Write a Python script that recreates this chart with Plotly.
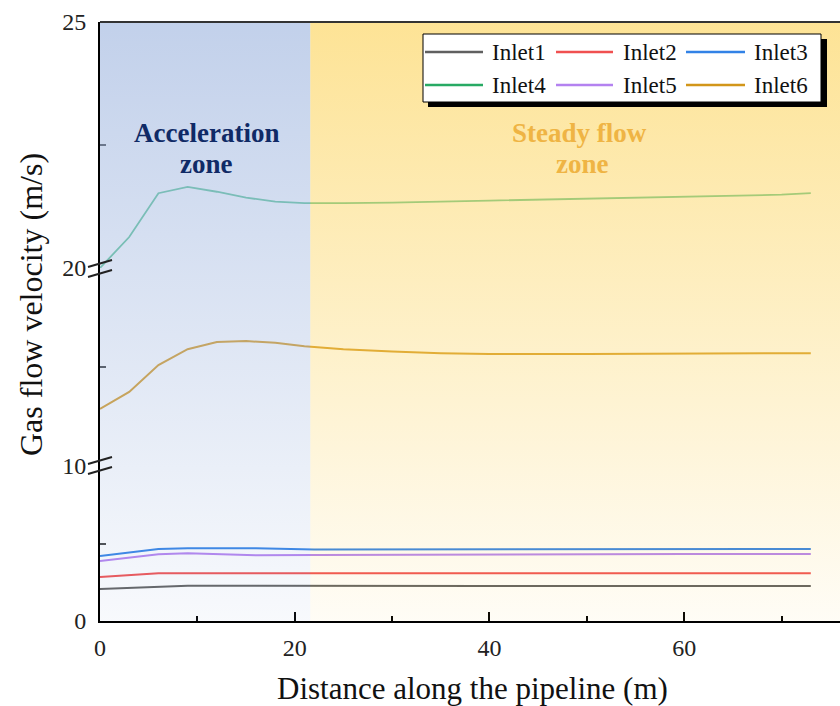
import plotly.graph_objects as go

# ---------------- data ----------------
x_inlet4 = [0, 3, 6, 9, 12, 15, 18, 21, 25, 30, 40, 50, 60, 70, 73]
inlet4 = [20.0, 20.63, 21.52, 21.65, 21.55, 21.43, 21.35, 21.32, 21.32, 21.33, 21.37, 21.41, 21.44, 21.49, 21.52]

x_inlet6 = [0, 3, 6, 9, 12, 15, 18, 21, 25, 30, 35, 40, 50, 60, 70, 73]
inlet6 = [12.88, 13.74, 15.1, 15.9, 16.26, 16.31, 16.22, 16.05, 15.9, 15.78, 15.7, 15.66, 15.66, 15.68, 15.69, 15.7]

x_low = [0, 6, 9, 16, 22, 40, 60, 73]
inlet1 = [2.06, 2.2, 2.28, 2.28, 2.27, 2.26, 2.26, 2.26]
inlet2 = [2.84, 3.08, 3.08, 3.08, 3.08, 3.08, 3.08, 3.08]
inlet3 = [4.19, 4.65, 4.7, 4.7, 4.62, 4.63, 4.64, 4.64]
inlet5 = [3.87, 4.3, 4.37, 4.24, 4.26, 4.3, 4.32, 4.32]

names = ["Inlet1", "Inlet2", "Inlet3", "Inlet4", "Inlet5", "Inlet6"]
colors = ["#606060", "#f05050", "#3282e6", "#28aa64", "#b482f0", "#d2961a"]
plot_colors = ["#606060", "#f05050", "#3282e6", "#66c89c", "#b482f0", "#d8a030"]
plot_widths = [2, 2, 2, 1.8, 2, 2]

zone_split = 21.6
x_max = 76
y_bottom = [0, 10]
y_middle = [10, 20]
y_top = [20, 25]

# ---------------- geometry helpers ----------------
W, H = 840, 706
ML, MR, MT, MB = 100, 0, 22, 85
PW, PH = W - ML - MR, H - MT - MB


def px2x(px):
    return (px - ML) / PW


def py2y(py):
    return (H - MB - py) / PH


d1 = py2y(466)
d2 = py2y(268)

fig = go.Figure()

series = {
    "Inlet1": (x_low, inlet1, "y2"),
    "Inlet2": (x_low, inlet2, "y2"),
    "Inlet3": (x_low, inlet3, "y2"),
    "Inlet4": (x_inlet4, inlet4, "y4"),
    "Inlet5": (x_low, inlet5, "y2"),
    "Inlet6": (x_inlet6, inlet6, "y3"),
}
for n, c, lw in zip(names, plot_colors, plot_widths):
    xs, ys, ya = series[n]
    fig.add_trace(go.Scatter(x=xs, y=ys, mode="lines", name=n, xaxis="x", yaxis=ya,
                             line=dict(color=c, width=lw), showlegend=False))

# gradient overlays (drawn on top, semi-transparent)
fig.add_trace(go.Scatter(
    x=[0, zone_split, zone_split, 0, 0], y=[0, 0, 1, 1, 0], xaxis="x", yaxis="y5",
    mode="lines", line=dict(width=0), fill="toself", showlegend=False, hoverinfo="skip",
    fillgradient=dict(type="vertical", start=0, stop=1,
                      colorscale=[[0, "rgba(150,175,220,0.07)"], [1, "rgba(150,175,220,0.58)"]])))
fig.add_trace(go.Scatter(
    x=[zone_split, x_max, x_max, zone_split, zone_split], y=[0, 0, 1, 1, 0], xaxis="x", yaxis="y5",
    mode="lines", line=dict(width=0), fill="toself", showlegend=False, hoverinfo="skip",
    fillgradient=dict(type="vertical", start=0, stop=1,
                      colorscale=[[0, "rgba(250,205,70,0.05)"], [1, "rgba(252,206,70,0.57)"]])))

FONT = "Liberation Serif"
tickfont = dict(family=FONT, size=24, color="#222")
yax_common = dict(anchor="x", showgrid=False, zeroline=False, showline=True, linecolor="black",
                  linewidth=2, ticks="inside", ticklen=6, tickwidth=1.5, tickcolor="#444",
                  tickfont=tickfont, ticklabelstandoff=7)

fig.update_layout(
    width=W, height=H,
    margin=dict(l=ML, r=MR, t=MT, b=MB),
    paper_bgcolor="white", plot_bgcolor="rgba(0,0,0,0)",
    showlegend=False,
    xaxis=dict(domain=[0, 1], range=[0, x_max], anchor="y2", showgrid=False, zeroline=False,
               showline=True, linecolor="black", linewidth=2, ticks="inside", ticklen=9,
               tickwidth=2, tickcolor="black", tickvals=[0, 20, 40, 60], tickfont=tickfont,
               ticklabelstandoff=4,
               minor=dict(tickvals=[10, 30, 50, 70], ticks="inside", ticklen=5, tickwidth=1.5,
                          tickcolor="black")),
    yaxis2=dict(domain=[0, d1], range=y_bottom, tickvals=[0, 5], ticktext=["0", ""], **yax_common),
    yaxis3=dict(domain=[d1, d2], range=y_middle, tickvals=[10, 15], ticktext=["10", ""], **yax_common),
    yaxis4=dict(domain=[d2, 1], range=y_top, tickvals=[20, 22.5, 25], ticktext=["20", "", "25"],
                **yax_common),
    yaxis5=dict(domain=[0, 1], range=[0, 1], anchor="x", visible=False, fixedrange=True),
)

shapes = []
# top border
shapes.append(dict(type="line", xref="paper", yref="paper", x0=0, x1=1, y0=1, y1=1,
                   line=dict(color="#333", width=2), layer="above"))
# axis break marks
for yb in (465, 268):
    for off in (-4, 6):
        shapes.append(dict(type="line", xref="paper", yref="paper",
                           x0=px2x(88), x1=px2x(112), y0=py2y(yb + off + 3), y1=py2y(yb + off - 4),
                           line=dict(color="#222", width=2), layer="above"))

# legend box (shadow + white box)
shapes.append(dict(type="rect", xref="paper", yref="paper", x0=px2x(428), x1=px2x(827),
                   y0=py2y(107), y1=py2y(39), fillcolor="black", line=dict(width=0), layer="above"))
shapes.append(dict(type="rect", xref="paper", yref="paper", x0=px2x(423), x1=px2x(821),
                   y0=py2y(102), y1=py2y(34), fillcolor="white", line=dict(color="black", width=1),
                   layer="above"))

legend_cols = [(425, 483, 490), (556, 613, 621), (686, 745, 752)]
legend_rows = [52, 85]
annos = []
for i, (n, c) in enumerate(zip(names, colors)):
    r, k = divmod(i, 3)
    lx0, lx1, tx = legend_cols[k]
    ly = legend_rows[r]
    shapes.append(dict(type="line", xref="paper", yref="paper", x0=px2x(lx0), x1=px2x(lx1),
                       y0=py2y(ly), y1=py2y(ly), line=dict(color=c, width=2.5), layer="above"))
    annos.append(dict(text=n, x=px2x(tx), y=py2y(ly), xref="paper", yref="paper",
                      xanchor="left", yanchor="middle", showarrow=False,
                      font=dict(family=FONT, size=23, color="#111")))
fig.update_layout(shapes=shapes)

annos += [
    dict(text="<b>Acceleration</b>", x=px2x(206), y=py2y(133), xref="paper", yref="paper",
         xanchor="center", yanchor="middle", showarrow=False,
         font=dict(family=FONT, size=27, color="#102a66")),
    dict(text="<b>zone</b>", x=px2x(206), y=py2y(164), xref="paper", yref="paper",
         xanchor="center", yanchor="middle", showarrow=False,
         font=dict(family=FONT, size=27, color="#102a66")),
    dict(text="<b>Steady flow</b>", x=px2x(579), y=py2y(133), xref="paper", yref="paper",
         xanchor="center", yanchor="middle", showarrow=False,
         font=dict(family=FONT, size=27, color="#efb444")),
    dict(text="<b>zone</b>", x=px2x(582), y=py2y(164), xref="paper", yref="paper",
         xanchor="center", yanchor="middle", showarrow=False,
         font=dict(family=FONT, size=27, color="#efb444")),
    dict(text="Gas flow velocity (m/s)", x=px2x(31), y=py2y(305), xref="paper", yref="paper",
         xanchor="center", yanchor="middle", textangle=-90, showarrow=False,
         font=dict(family=FONT, size=32, color="#111")),
    dict(text="Distance along the pipeline (m)", x=px2x(472), y=py2y(688), xref="paper", yref="paper",
         xanchor="center", yanchor="middle", showarrow=False,
         font=dict(family=FONT, size=31, color="#111")),
]
fig.update_layout(annotations=annos)

fig.write_html("out.html")
